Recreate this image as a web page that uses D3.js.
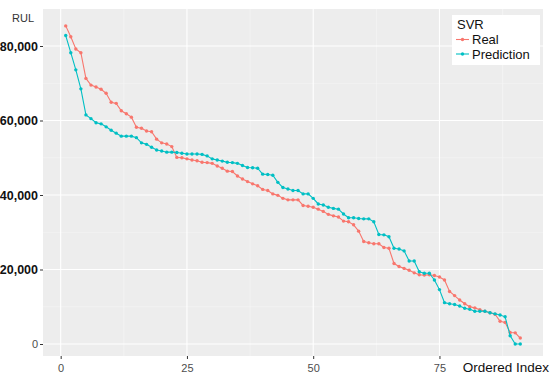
<!DOCTYPE html>
<html>
<head>
<meta charset="utf-8">
<script src="https://cdn.jsdelivr.net/npm/d3@7"></script>
<style>
  body { margin: 0; background: #fff; }
  text { font-family: "Liberation Sans", Arial, sans-serif; }
</style>
</head>
<body>
<script>
// values, index 1..91
const realValues = [
  85400, 82500, 79200, 78200, 71300, 69500, 69000, 68400, 67300, 64900,
  64600, 62600, 61800, 60900, 58200, 57900, 57200, 57000, 55000, 54000,
  53700, 53000, 50100, 50000, 49700, 49400, 49200, 48800, 48700, 48500,
  47800, 47200, 46400, 46300, 45100, 44300, 43600, 43000, 42500, 41500,
  41200, 40300, 39900, 39100, 38700, 38700, 38700, 37200, 37000, 36700,
  36200, 35600, 34800, 34400, 34100, 33000, 32800, 32000, 30300, 27500,
  27200, 26900, 26900, 25900, 25700, 21600, 20800, 20300, 19800, 19100,
  18600, 18500, 18600, 18400, 18000, 17200, 14100, 13000, 11800, 10800,
  10000, 9700, 9200, 8800, 8400, 8000, 6100, 5800, 3100, 3000, 1600
];
const predValues = [
  82800, 78200, 73600, 68500, 61500, 60500, 59400, 59100, 58300, 57400,
  56600, 55800, 55800, 55800, 55400, 54000, 53600, 52800, 52100, 51800,
  51500, 51500, 51400, 51200, 51000, 51000, 51000, 50900, 50500, 49700,
  49400, 49100, 48800, 48700, 48500, 47900, 47400, 47300, 47200, 45600,
  45500, 45300, 43400, 42000, 41600, 41200, 41200, 40300, 40300, 39100,
  37600, 37300, 36700, 36400, 36200, 34900, 33900, 33900, 33700, 33600,
  33600, 32800, 29400, 29300, 28800, 25700, 25500, 25000, 22300, 22300,
  19400, 19000, 19000, 17200, 14600, 11100, 10800, 10600, 10200, 9600,
  9300, 8800, 8800, 8800, 8400, 8100, 7800, 7300, 2200, 0, 0
];
const seriesNames = ['Real', 'Prediction'];
const seriesColors = ['#F8766D', '#00BFC4'];
const xTicks = [0, 25, 50, 75];
const yTicks = [0, 20000, 40000, 60000, 80000];

const width = 550, height = 384;
const panel = { left: 43, right: 543, top: 9, bottom: 356 };

const svg = d3.select('body').append('svg')
  .attr('width', width)
  .attr('height', height);

const x = d3.scaleLinear().domain([-3.5, 95.5]).range([panel.left, panel.right]);
const y = d3.scaleLinear().domain([0, 80000]).range([344, 46]);

// panel background
svg.append('rect')
  .attr('x', panel.left).attr('y', panel.top)
  .attr('width', panel.right - panel.left)
  .attr('height', panel.bottom - panel.top)
  .attr('fill', '#EDEDED');

const grid = svg.append('g');
// minor grid
const xMinor = [12.5, 37.5, 62.5, 87.5];
const yMinor = [10000, 30000, 50000, 70000];
grid.selectAll('line.xminor').data(xMinor).enter().append('line')
  .attr('x1', d => x(d)).attr('x2', d => x(d))
  .attr('y1', panel.top).attr('y2', panel.bottom)
  .attr('stroke', '#F6F6F6').attr('stroke-width', 0.6);
grid.selectAll('line.yminor').data(yMinor).enter().append('line')
  .attr('x1', panel.left).attr('x2', panel.right)
  .attr('y1', d => y(d)).attr('y2', d => y(d))
  .attr('stroke', '#F6F6F6').attr('stroke-width', 0.6);
// major grid
grid.selectAll('line.xmajor').data(xTicks).enter().append('line')
  .attr('x1', d => x(d)).attr('x2', d => x(d))
  .attr('y1', panel.top).attr('y2', panel.bottom)
  .attr('stroke', '#fff').attr('stroke-width', 1.1);
grid.selectAll('line.ymajor').data(yTicks).enter().append('line')
  .attr('x1', panel.left).attr('x2', panel.right)
  .attr('y1', d => y(d)).attr('y2', d => y(d))
  .attr('stroke', '#fff').attr('stroke-width', 1.1);

// axes
const fmt = d3.format(',');
const yAxis = svg.append('g')
  .attr('transform', `translate(${panel.left},0)`)
  .call(d3.axisLeft(y).tickValues(yTicks).tickSize(3).tickPadding(2).tickFormat(fmt));
yAxis.select('.domain').remove();
yAxis.selectAll('.tick line').attr('stroke', '#333');
yAxis.selectAll('.tick text')
  .attr('fill', d => d === 0 ? '#4D4D4D' : '#111')
  .style('font-size', d => d === 0 ? '11px' : '12.5px')
  .style('font-weight', d => d === 0 ? 'normal' : 'bold');

const xAxis = svg.append('g')
  .attr('transform', `translate(0,${panel.bottom})`)
  .call(d3.axisBottom(x).tickValues(xTicks).tickSize(3).tickPadding(5));
xAxis.select('.domain').remove();
xAxis.selectAll('.tick line').attr('stroke', '#333');
xAxis.selectAll('.tick text').attr('fill', '#4D4D4D').style('font-size', '11px');

// axis titles
svg.append('text')
  .attr('x', 12).attr('y', 22)
  .attr('fill', '#333').style('font-size', '11px')
  .text('RUL');
svg.append('text')
  .attr('x', 549).attr('y', 372)
  .attr('text-anchor', 'end')
  .attr('fill', '#111').style('font-size', '13.5px')
  .text('Ordered Index');

// series
const series = [realValues, predValues].map((vals, i) => ({
  name: seriesNames[i],
  color: seriesColors[i],
  points: vals.map((v, j) => ({ i: j + 1, v }))
}));

const line = d3.line().x(d => x(d.i)).y(d => y(d.v));

const sg = svg.selectAll('g.series').data(series).enter().append('g');
sg.append('path')
  .attr('d', d => line(d.points))
  .attr('fill', 'none')
  .attr('stroke', d => d.color)
  .attr('stroke-width', 1.1);
sg.each(function (s) {
  d3.select(this).selectAll('circle').data(s.points).enter().append('circle')
    .attr('cx', d => x(d.i))
    .attr('cy', d => y(d.v))
    .attr('r', 1.7)
    .attr('fill', s.color);
});

// legend
const legend = svg.append('g').attr('transform', 'translate(452,15)');
legend.append('rect')
  .attr('width', 88).attr('height', 50)
  .attr('fill', '#fff');
legend.append('text')
  .attr('x', 5).attr('y', 14)
  .attr('fill', '#111').style('font-size', '13px')
  .text('SVR');
const items = legend.selectAll('g.item').data(series).enter().append('g')
  .attr('transform', (d, i) => `translate(0,${24.5 + i * 14.5})`);
items.append('line')
  .attr('x1', 4).attr('x2', 17)
  .attr('stroke', d => d.color).attr('stroke-width', 1.1);
items.append('circle')
  .attr('cx', 10.5).attr('r', 1.7)
  .attr('fill', d => d.color);
items.append('text')
  .attr('x', 20).attr('y', 4.5)
  .attr('fill', '#111').style('font-size', '13px')
  .text(d => d.name);
</script>
</body>
</html>
